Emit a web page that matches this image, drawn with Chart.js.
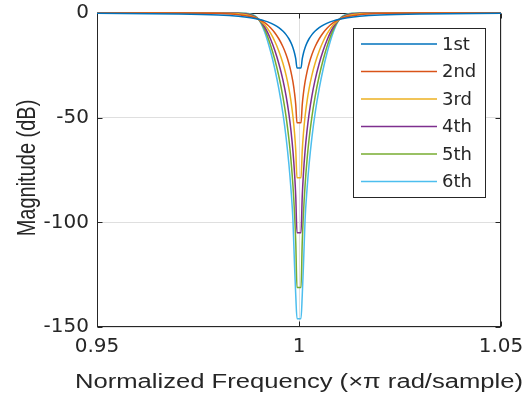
<!DOCTYPE html>
<html>
<head>
<meta charset="utf-8">
<script src="https://cdn.jsdelivr.net/npm/chart.js@4"></script>
<style>
  html, body { margin: 0; padding: 0; background: #fff; }
  canvas { display: block; }
</style>
</head>
<body>
<canvas id="chart" width="524" height="405"></canvas>
<script>
// normalized frequency (x pi rad/sample)
var freqs = [0.95, 0.97, 0.98, 0.985, 0.988, 0.99, 0.9915, 0.993, 0.994, 0.995, 0.996, 0.9968, 0.9975, 0.998, 0.9985, 0.9989, 0.9992, 0.9995,
             1.0005, 1.0008, 1.0011, 1.0015, 1.002, 1.0025, 1.0032, 1.004, 1.005, 1.006, 1.007, 1.0085, 1.01, 1.012, 1.015, 1.02, 1.03, 1.05];

// magnitude (dB) for each filter order
var order1 = [-0.17, -0.46, -0.97, -1.6, -2.29, -3.01, -3.77, -4.83, -5.77, -6.99, -8.6, -10.32, -12.3, -14.15, -16.58, -19.22, -21.97, -26.24,
              -26.24, -21.97, -19.22, -16.58, -14.15, -12.3, -10.32, -8.6, -6.99, -5.77, -4.83, -3.77, -3.01, -2.29, -1.6, -0.97, -0.46, -0.17];
var order2 = [-0.01, -0.05, -0.26, -0.78, -1.71, -3.01, -4.65, -7.13, -9.4, -12.3, -16.03, -19.84, -24.1, -27.97, -32.96, -38.35, -43.88, -52.46,
              -52.46, -43.88, -38.35, -32.96, -27.97, -24.1, -19.84, -16.03, -12.3, -9.4, -7.13, -4.65, -3.01, -1.71, -0.78, -0.26, -0.05, -0.01];
var order3 = [0, -0.01, -0.07, -0.37, -1.26, -3.01, -5.63, -9.78, -13.51, -18.13, -23.89, -29.7, -36.12, -41.94, -49.43, -57.52, -65.82, -78.7,
              -78.7, -65.82, -57.52, -49.43, -41.94, -36.12, -29.7, -23.89, -18.13, -13.51, -9.78, -5.63, -3.01, -1.26, -0.37, -0.07, -0.01, 0];
var order4 = [0, 0, -0.02, -0.17, -0.91, -3.01, -6.69, -12.64, -17.82, -24.1, -31.84, -39.59, -48.16, -55.92, -65.91, -76.69, -87.75, -104.93,
              -104.93, -87.75, -76.69, -65.91, -55.92, -48.16, -39.59, -31.84, -24.1, -17.82, -12.64, -6.69, -3.01, -0.91, -0.17, -0.02, 0, 0];
var order5 = [0, 0, 0, -0.07, -0.65, -3.01, -7.84, -15.61, -22.21, -30.11, -39.79, -49.49, -60.21, -69.9, -82.39, -95.86, -109.69, -131.16,
              -131.16, -109.69, -95.86, -82.39, -69.9, -60.21, -49.49, -39.79, -30.11, -22.21, -15.61, -7.84, -3.01, -0.65, -0.07, 0, 0, 0];
var order6 = [0, 0, 0, -0.03, -0.46, -3.01, -9.05, -18.65, -26.63, -36.12, -47.75, -59.38, -72.25, -83.88, -98.87, -121, -135, -146,
              -146, -135, -121, -98.87, -83.88, -72.25, -59.38, -47.75, -36.12, -26.63, -18.65, -9.05, -3.01, -0.46, -0.03, 0, 0, 0];

var seriesNames = ['1st', '2nd', '3rd', '4th', '5th', '6th'];
var seriesValues = [order1, order2, order3, order4, order5, order6];
var seriesColors = ['#0072BD', '#D95319', '#EDB120', '#7E2F8E', '#77AC30', '#4DBEEE'];

var xTicks = [0.95, 1, 1.05];
var xTickLabels = ['0.95', '1', '1.05'];
var yTicks = [-150, -100, -50, 0];
var xTitle = 'Normalized Frequency (\u00d7\u03c0 rad/sample)';
var yTitle = 'Magnitude (dB)';

var axisColor = '#262626';
var gridColor = '#dfdfdf';
var tickFont = { family: 'DejaVu Sans', size: 20 };

var datasets = [];
for (var s = 0; s < seriesNames.length; s++) {
  var pts = [];
  for (var i = 0; i < freqs.length; i++) {
    pts.push({ x: freqs[i], y: seriesValues[s][i] });
  }
  datasets.push({
    label: seriesNames[s],
    data: pts,
    borderColor: seriesColors[s],
    backgroundColor: seriesColors[s],
    borderWidth: 1.5,
    pointRadius: 0,
    fill: false,
    cubicInterpolationMode: 'monotone',
    clip: 3
  });
}

// axes box with inward tick marks (drawn under the curves)
var boxPlugin = {
  id: 'box',
  beforeDatasetsDraw: function (chart) {
    var ctx = chart.ctx;
    var a = chart.chartArea;
    var l = Math.round(a.left) + 0.5, r = Math.round(a.right) - 0.5;
    var t = Math.round(a.top) + 0.5, b = Math.round(a.bottom) - 0.5;
    ctx.save();
    ctx.strokeStyle = axisColor;
    ctx.lineWidth = 1;
    ctx.strokeRect(l, t, r - l, b - t);
    ctx.beginPath();
    var xs = chart.scales.x, ys = chart.scales.y;
    xTicks.forEach(function (v) {
      var px = Math.round(xs.getPixelForValue(v)) + 0.5;
      ctx.moveTo(px, b); ctx.lineTo(px, b - 5);
      ctx.moveTo(px, t); ctx.lineTo(px, t + 5);
    });
    yTicks.forEach(function (v) {
      var py = Math.round(ys.getPixelForValue(v)) + 0.5;
      ctx.moveTo(l, py); ctx.lineTo(l + 5, py);
      ctx.moveTo(r, py); ctx.lineTo(r - 5, py);
    });
    ctx.stroke();
    ctx.restore();
  }
};

// axis titles, slightly widened like the source figure
var titlePlugin = {
  id: 'wideTitles',
  afterDraw: function (chart) {
    var ctx = chart.ctx;
    var a = chart.chartArea;
    ctx.save();
    ctx.fillStyle = axisColor;
    ctx.font = '20px "Liberation Sans"';
    ctx.textAlign = 'center';
    ctx.textBaseline = 'middle';
    ctx.save();
    ctx.translate((a.left + a.right) / 2, 382);
    ctx.scale(1.28, 1);
    ctx.fillText(xTitle, 0, 0);
    ctx.restore();
    ctx.save();
    ctx.translate(28, 168);
    ctx.rotate(-Math.PI / 2);
    ctx.scale(1, 1.25);
    ctx.fillText(yTitle, 0, 0);
    ctx.restore();
    ctx.restore();
  }
};

// legend box inside the axes, top right
var legendPlugin = {
  id: 'boxLegend',
  afterDraw: function (chart) {
    var ctx = chart.ctx;
    var bx = 353.5, by = 28.5, bw = 132, bh = 169;
    ctx.save();
    ctx.fillStyle = '#fff';
    ctx.fillRect(bx, by, bw, bh);
    ctx.strokeStyle = axisColor;
    ctx.lineWidth = 1;
    ctx.strokeRect(bx, by, bw, bh);
    ctx.font = '18px "DejaVu Sans"';
    ctx.textBaseline = 'middle';
    ctx.fillStyle = axisColor;
    chart.data.datasets.forEach(function (ds, i) {
      var y = 44 + i * 27.5;
      ctx.strokeStyle = ds.borderColor;
      ctx.lineWidth = 1.5;
      ctx.beginPath();
      ctx.moveTo(361, y);
      ctx.lineTo(437, y);
      ctx.stroke();
      ctx.fillText(ds.label, 442, y + 1);
    });
    ctx.restore();
  }
};

var ctx = document.getElementById('chart').getContext('2d');
new Chart(ctx, {
  type: 'line',
  data: { datasets: datasets },
  options: {
    responsive: false,
    animation: false,
    events: [],
    layout: { padding: { top: 13, right: 23, left: 0, bottom: 0 } },
    plugins: {
      legend: { display: false },
      tooltip: { enabled: false }
    },
    scales: {
      x: {
        type: 'linear',
        min: 0.95,
        max: 1.05,
        afterBuildTicks: function (scale) {
          scale.ticks = xTicks.map(function (v) { return { value: v }; });
        },
        afterFit: function (scale) {
          scale.height = 78;
          scale.paddingLeft = 0;
          scale.paddingRight = 0;
        },
        ticks: {
          autoSkip: false,
          maxRotation: 0,
          padding: 8,
          color: axisColor,
          font: tickFont,
          callback: function (value, index) { return xTickLabels[index]; }
        },
        grid: { color: gridColor, drawTicks: false },
        border: { display: false },
        title: { display: false }
      },
      y: {
        type: 'linear',
        min: -150,
        max: 0,
        afterBuildTicks: function (scale) {
          scale.ticks = yTicks.map(function (v) { return { value: v }; });
        },
        afterFit: function (scale) {
          scale.width = 97;
          scale.paddingTop = 0;
          scale.paddingBottom = 0;
        },
        ticks: {
          padding: 8,
          color: axisColor,
          font: tickFont,
          callback: function (value) { return String(value); }
        },
        grid: { color: gridColor, drawTicks: false },
        border: { display: false },
        title: { display: false }
      }
    }
  },
  plugins: [boxPlugin, titlePlugin, legendPlugin]
});
</script>
</body>
</html>
